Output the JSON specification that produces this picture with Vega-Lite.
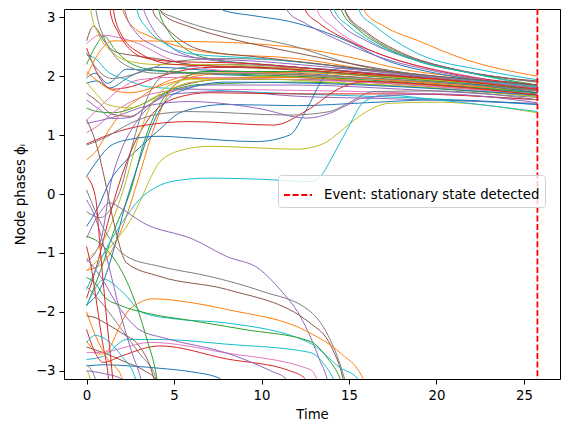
{
  "$schema": "https://vega.github.io/schema/vega-lite/v6.json",
  "width": 496,
  "height": 370,
  "autosize": {"type": "none"},
  "padding": {"left": 64, "top": 9, "right": 9, "bottom": 53},
  "background": "white",
  "config": {
    "font": "DejaVu Sans",
    "view": {"stroke": "black", "strokeWidth": 1},
    "axis": {
      "grid": false, "domain": false,
      "tickColor": "black", "tickSize": 5, "tickWidth": 1,
      "labelColor": "black", "labelFontSize": 13.3, "labelFont": "DejaVu Sans", "labelPadding": 4,
      "titleFont": "DejaVu Sans", "titleFontSize": 13.3, "titleFontWeight": "normal", "titleColor": "black"
    }
  },
  "layer": [
    {
      "data": {"values": [
        {"s":"A1","c":0,"t":0,"v":1.97},{"s":"A1","c":0,"t":0.5,"v":2.05},{"s":"A1","c":0,"t":1.2,"v":1.88},{"s":"A1","c":0,"t":2.3,"v":2.12},{"s":"A1","c":0,"t":3.5,"v":2.1},{"s":"A1","c":0,"t":6,"v":2.05},{"s":"A1","c":0,"t":12,"v":1.98},{"s":"A1","c":0,"t":18,"v":1.88},{"s":"A1","c":0,"t":25.77,"v":1.72},
        {"s":"A2","c":0,"t":0,"v":1.88},{"s":"A2","c":0,"t":0.6,"v":1.92},{"s":"A2","c":0,"t":1.3,"v":1.8},{"s":"A2","c":0,"t":2.5,"v":2.0},{"s":"A2","c":0,"t":4,"v":2.15},{"s":"A2","c":0,"t":7,"v":2.1},{"s":"A2","c":0,"t":12,"v":2.05},{"s":"A2","c":0,"t":18,"v":1.93},{"s":"A2","c":0,"t":25.77,"v":1.78},
        {"s":"A3","c":9,"t":0,"v":2.36},{"s":"A3","c":9,"t":0.5,"v":2.3},{"s":"A3","c":9,"t":1.2,"v":2.08},{"s":"A3","c":9,"t":2.2,"v":1.95},{"s":"A3","c":9,"t":3.5,"v":1.82},{"s":"A3","c":9,"t":6,"v":1.78},{"s":"A3","c":9,"t":12,"v":1.7},{"s":"A3","c":9,"t":18,"v":1.64},{"s":"A3","c":9,"t":25.77,"v":1.52},
        {"s":"A4","c":5,"t":0,"v":1.71},{"s":"A4","c":5,"t":0.6,"v":1.58},{"s":"A4","c":5,"t":1.5,"v":1.35},{"s":"A4","c":5,"t":2.5,"v":1.32},{"s":"A4","c":5,"t":3.5,"v":1.5},{"s":"A4","c":5,"t":5,"v":1.8},{"s":"A4","c":5,"t":8,"v":1.95},{"s":"A4","c":5,"t":13,"v":1.94},{"s":"A4","c":5,"t":18,"v":1.86},{"s":"A4","c":5,"t":25.77,"v":1.7},
        {"s":"A5","c":2,"t":0,"v":1.46},{"s":"A5","c":2,"t":0.6,"v":1.4},{"s":"A5","c":2,"t":1.5,"v":1.38},{"s":"A5","c":2,"t":3,"v":1.5},{"s":"A5","c":2,"t":4.5,"v":1.72},{"s":"A5","c":2,"t":6.5,"v":1.86},{"s":"A5","c":2,"t":12,"v":1.9},{"s":"A5","c":2,"t":18,"v":1.83},{"s":"A5","c":2,"t":25.77,"v":1.66},
        {"s":"A6","c":6,"t":0,"v":1.04},{"s":"A6","c":6,"t":0.6,"v":1.15},{"s":"A6","c":6,"t":1.5,"v":1.38},{"s":"A6","c":6,"t":2.5,"v":1.56},{"s":"A6","c":6,"t":4,"v":1.72},{"s":"A6","c":6,"t":6,"v":1.78},{"s":"A6","c":6,"t":12,"v":1.76},{"s":"A6","c":6,"t":18,"v":1.72},{"s":"A6","c":6,"t":25.77,"v":1.6},
        {"s":"A7","c":1,"t":0,"v":0.58},{"s":"A7","c":1,"t":0.6,"v":0.75},{"s":"A7","c":1,"t":1.2,"v":1.05},{"s":"A7","c":1,"t":2,"v":1.38},{"s":"A7","c":1,"t":3,"v":1.62},{"s":"A7","c":1,"t":4.5,"v":1.9},{"s":"A7","c":1,"t":7,"v":2.05},{"s":"A7","c":1,"t":12,"v":2.06},{"s":"A7","c":1,"t":18,"v":1.96},{"s":"A7","c":1,"t":25.77,"v":1.8},
        {"s":"A8","c":3,"t":0,"v":2.48},{"s":"A8","c":3,"t":0.3,"v":2.25},{"s":"A8","c":3,"t":0.8,"v":1.95},{"s":"A8","c":3,"t":1.5,"v":1.78},{"s":"A8","c":3,"t":2.5,"v":1.82},{"s":"A8","c":3,"t":4,"v":1.98},{"s":"A8","c":3,"t":7,"v":2.15},{"s":"A8","c":3,"t":12,"v":2.14},{"s":"A8","c":3,"t":18,"v":2.0},{"s":"A8","c":3,"t":25.77,"v":1.8},
        {"s":"A9","c":8,"t":0,"v":1.9},{"s":"A9","c":8,"t":0.5,"v":1.72},{"s":"A9","c":8,"t":1.2,"v":1.52},{"s":"A9","c":8,"t":2.5,"v":1.46},{"s":"A9","c":8,"t":4,"v":1.66},{"s":"A9","c":8,"t":6,"v":1.9},{"s":"A9","c":8,"t":11,"v":2.0},{"s":"A9","c":8,"t":17,"v":1.94},{"s":"A9","c":8,"t":25.77,"v":1.72},
        {"s":"A10","c":6,"t":0,"v":2.55},{"s":"A10","c":6,"t":0.8,"v":2.7},{"s":"A10","c":6,"t":1.8,"v":2.66},{"s":"A10","c":6,"t":3,"v":2.55},{"s":"A10","c":6,"t":4.5,"v":2.32},{"s":"A10","c":6,"t":7,"v":2.12},{"s":"A10","c":6,"t":12,"v":2.02},{"s":"A10","c":6,"t":18,"v":1.92},{"s":"A10","c":6,"t":25.77,"v":1.75},
        {"s":"A11","c":5,"t":0,"v":2.6},{"s":"A11","c":5,"t":0.4,"v":2.85},{"s":"A11","c":5,"t":1,"v":2.6},{"s":"A11","c":5,"t":1.6,"v":2.42},{"s":"A11","c":5,"t":2.5,"v":2.36},{"s":"A11","c":5,"t":4,"v":2.3},{"s":"A11","c":5,"t":6,"v":2.2},{"s":"A11","c":5,"t":11,"v":2.12},{"s":"A11","c":5,"t":17,"v":2.0},{"s":"A11","c":5,"t":25.77,"v":1.76},
        {"s":"A12","c":4,"t":0,"v":1.6},{"s":"A12","c":4,"t":0.8,"v":1.42},{"s":"A12","c":4,"t":1.5,"v":1.28},{"s":"A12","c":4,"t":2.5,"v":1.3},{"s":"A12","c":4,"t":3.5,"v":1.5},{"s":"A12","c":4,"t":5,"v":1.7},{"s":"A12","c":4,"t":8,"v":1.74},{"s":"A12","c":4,"t":12,"v":1.66},{"s":"A12","c":4,"t":17,"v":1.62},{"s":"A12","c":4,"t":25.77,"v":1.54},
        {"s":"A13","c":2,"t":0,"v":2.2},{"s":"A13","c":2,"t":0.5,"v":2.5},{"s":"A13","c":2,"t":1,"v":2.68},{"s":"A13","c":2,"t":1.6,"v":2.46},{"s":"A13","c":2,"t":2.5,"v":2.22},{"s":"A13","c":2,"t":4,"v":2.1},{"s":"A13","c":2,"t":7,"v":2.05},{"s":"A13","c":2,"t":12,"v":2.0},{"s":"A13","c":2,"t":18,"v":1.9},{"s":"A13","c":2,"t":25.77,"v":1.72},
        {"s":"A14","c":1,"t":0,"v":2.08},{"s":"A14","c":1,"t":0.5,"v":1.95},{"s":"A14","c":1,"t":1.5,"v":1.76},{"s":"A14","c":1,"t":2.5,"v":1.72},{"s":"A14","c":1,"t":4,"v":1.82},{"s":"A14","c":1,"t":6,"v":1.96},{"s":"A14","c":1,"t":11,"v":1.98},{"s":"A14","c":1,"t":17,"v":1.9},{"s":"A14","c":1,"t":25.77,"v":1.68},
        {"s":"A15","c":7,"t":0,"v":2.4},{"s":"A15","c":7,"t":0.6,"v":2.12},{"s":"A15","c":7,"t":1.5,"v":1.96},{"s":"A15","c":7,"t":3,"v":2.06},{"s":"A15","c":7,"t":5,"v":2.25},{"s":"A15","c":7,"t":8,"v":2.3},{"s":"A15","c":7,"t":12,"v":2.25},{"s":"A15","c":7,"t":16,"v":2.1},{"s":"A15","c":7,"t":20,"v":1.96},{"s":"A15","c":7,"t":25.77,"v":1.78},
        {"s":"A16","c":6,"t":0,"v":1.25},{"s":"A16","c":6,"t":1,"v":1.55},{"s":"A16","c":6,"t":2,"v":1.8},{"s":"A16","c":6,"t":3,"v":1.94},{"s":"A16","c":6,"t":5,"v":1.98},{"s":"A16","c":6,"t":11,"v":1.95},{"s":"A16","c":6,"t":17,"v":1.88},{"s":"A16","c":6,"t":25.77,"v":1.68},

        {"s":"B1","c":7,"t":0,"v":-0.3},{"s":"B1","c":7,"t":0.8,"v":-0.4},{"s":"B1","c":7,"t":1.5,"v":-0.2},{"s":"B1","c":7,"t":1.9,"v":0.04},{"s":"B1","c":7,"t":2.5,"v":0.7},{"s":"B1","c":7,"t":3.3,"v":1.51},{"s":"B1","c":7,"t":4.2,"v":1.97},{"s":"B1","c":7,"t":5.5,"v":2.15},{"s":"B1","c":7,"t":8,"v":2.2},{"s":"B1","c":7,"t":12,"v":2.15},{"s":"B1","c":7,"t":17,"v":2.04},{"s":"B1","c":7,"t":25.77,"v":1.8},
        {"s":"B2","c":4,"t":0,"v":-1.15},{"s":"B2","c":4,"t":0.8,"v":-0.8},{"s":"B2","c":4,"t":1.4,"v":0.2},{"s":"B2","c":4,"t":1.95,"v":0.72},{"s":"B2","c":4,"t":2.8,"v":1.2},{"s":"B2","c":4,"t":3.66,"v":1.51},{"s":"B2","c":4,"t":5,"v":1.75},{"s":"B2","c":4,"t":7,"v":1.85},{"s":"B2","c":4,"t":12,"v":1.85},{"s":"B2","c":4,"t":18,"v":1.78},{"s":"B2","c":4,"t":25.77,"v":1.64},
        {"s":"B3","c":2,"t":0,"v":-1.9},{"s":"B3","c":2,"t":0.8,"v":-1.3},{"s":"B3","c":2,"t":1.6,"v":-0.6},{"s":"B3","c":2,"t":2.5,"v":0.04},{"s":"B3","c":2,"t":3.3,"v":0.9},{"s":"B3","c":2,"t":4.4,"v":1.63},{"s":"B3","c":2,"t":5.5,"v":1.95},{"s":"B3","c":2,"t":6.7,"v":2.08},{"s":"B3","c":2,"t":12,"v":2.08},{"s":"B3","c":2,"t":18,"v":1.96},{"s":"B3","c":2,"t":25.77,"v":1.78},
        {"s":"B4","c":1,"t":0,"v":-1.3},{"s":"B4","c":1,"t":1,"v":-1.15},{"s":"B4","c":1,"t":2,"v":-0.6},{"s":"B4","c":1,"t":3,"v":0.3},{"s":"B4","c":1,"t":3.66,"v":0.95},{"s":"B4","c":1,"t":4.5,"v":1.6},{"s":"B4","c":1,"t":5.5,"v":1.95},{"s":"B4","c":1,"t":8,"v":2.05},{"s":"B4","c":1,"t":13,"v":2.02},{"s":"B4","c":1,"t":18,"v":1.92},{"s":"B4","c":1,"t":25.77,"v":1.75},
        {"s":"B5","c":0,"t":0,"v":-0.55},{"s":"B5","c":0,"t":0.7,"v":-0.2},{"s":"B5","c":0,"t":1.3,"v":0.2},{"s":"B5","c":0,"t":2.2,"v":0.55},{"s":"B5","c":0,"t":3,"v":0.78},{"s":"B5","c":0,"t":4,"v":1.05},{"s":"B5","c":0,"t":5.5,"v":1.4},{"s":"B5","c":0,"t":8,"v":1.52},{"s":"B5","c":0,"t":12,"v":1.5},{"s":"B5","c":0,"t":16,"v":1.55},{"s":"B5","c":0,"t":20,"v":1.6},{"s":"B5","c":0,"t":25.77,"v":1.52},
        {"s":"B6","c":3,"t":0,"v":-1.77},{"s":"B6","c":3,"t":0.6,"v":-1.2},{"s":"B6","c":3,"t":1.2,"v":-0.5},{"s":"B6","c":3,"t":2,"v":0.3},{"s":"B6","c":3,"t":2.8,"v":0.9},{"s":"B6","c":3,"t":3.6,"v":1.3},{"s":"B6","c":3,"t":5,"v":1.62},{"s":"B6","c":3,"t":7,"v":1.72},{"s":"B6","c":3,"t":12,"v":1.7},{"s":"B6","c":3,"t":18,"v":1.7},{"s":"B6","c":3,"t":25.77,"v":1.6},
        {"s":"B7","c":8,"t":0,"v":-1.11},{"s":"B7","c":8,"t":1,"v":-0.77},{"s":"B7","c":8,"t":2.1,"v":0.07},{"s":"B7","c":8,"t":2.8,"v":0.8},{"s":"B7","c":8,"t":3.5,"v":1.4},{"s":"B7","c":8,"t":4.5,"v":1.8},{"s":"B7","c":8,"t":6,"v":1.95},{"s":"B7","c":8,"t":10,"v":1.95},{"s":"B7","c":8,"t":15,"v":1.88},{"s":"B7","c":8,"t":20,"v":1.8},{"s":"B7","c":8,"t":25.77,"v":1.65},
        {"s":"B8","c":0,"t":0,"v":-1.88},{"s":"B8","c":0,"t":0.8,"v":-1.6},{"s":"B8","c":0,"t":1.5,"v":-1.0},{"s":"B8","c":0,"t":2.2,"v":-0.2},{"s":"B8","c":0,"t":3,"v":0.55},{"s":"B8","c":0,"t":3.8,"v":1.2},{"s":"B8","c":0,"t":5,"v":1.7},{"s":"B8","c":0,"t":8,"v":1.9},{"s":"B8","c":0,"t":13,"v":1.88},{"s":"B8","c":0,"t":18,"v":1.82},{"s":"B8","c":0,"t":25.77,"v":1.68},

        {"s":"E1","c":8,"t":0,"v":-1.3},{"s":"E1","c":8,"t":1.5,"v":-0.85},{"s":"E1","c":8,"t":2.5,"v":-0.45},{"s":"E1","c":8,"t":3.1,"v":-0.1},{"s":"E1","c":8,"t":3.7,"v":0.3},{"s":"E1","c":8,"t":4.2,"v":0.55},{"s":"E1","c":8,"t":5.5,"v":0.75},{"s":"E1","c":8,"t":7,"v":0.81},{"s":"E1","c":8,"t":10,"v":0.78},{"s":"E1","c":8,"t":12,"v":0.76},{"s":"E1","c":8,"t":13.5,"v":0.85},{"s":"E1","c":8,"t":14.5,"v":1.06},{"s":"E1","c":8,"t":15.5,"v":1.3},{"s":"E1","c":8,"t":17.3,"v":1.54},{"s":"E1","c":8,"t":20,"v":1.56},{"s":"E1","c":8,"t":25.77,"v":1.38},
        {"s":"E2","c":9,"t":0,"v":-1.62},{"s":"E2","c":9,"t":1,"v":-1.0},{"s":"E2","c":9,"t":2,"v":-0.5},{"s":"E2","c":9,"t":3,"v":-0.1},{"s":"E2","c":9,"t":4,"v":0.12},{"s":"E2","c":9,"t":5,"v":0.22},{"s":"E2","c":9,"t":7,"v":0.27},{"s":"E2","c":9,"t":10,"v":0.25},{"s":"E2","c":9,"t":12.8,"v":0.21},{"s":"E2","c":9,"t":13.5,"v":0.35},{"s":"E2","c":9,"t":14.1,"v":0.66},{"s":"E2","c":9,"t":15,"v":1.15},{"s":"E2","c":9,"t":15.8,"v":1.55},{"s":"E2","c":9,"t":17,"v":1.68},{"s":"E2","c":9,"t":20,"v":1.6},{"s":"E2","c":9,"t":25.77,"v":1.4},
        {"s":"E3","c":0,"t":0,"v":0.3},{"s":"E3","c":0,"t":0.7,"v":0.6},{"s":"E3","c":0,"t":1.33,"v":0.81},{"s":"E3","c":0,"t":2.5,"v":0.93},{"s":"E3","c":0,"t":4.2,"v":0.98},{"s":"E3","c":0,"t":6,"v":0.95},{"s":"E3","c":0,"t":9.7,"v":0.89},{"s":"E3","c":0,"t":11.6,"v":1.0},{"s":"E3","c":0,"t":12.6,"v":1.45},{"s":"E3","c":0,"t":13.5,"v":1.95},{"s":"E3","c":0,"t":14.5,"v":2.14},{"s":"E3","c":0,"t":16,"v":2.12},{"s":"E3","c":0,"t":20,"v":1.95},{"s":"E3","c":0,"t":25.77,"v":1.72},
        {"s":"E4","c":3,"t":0,"v":0.85},{"s":"E4","c":3,"t":0.8,"v":0.95},{"s":"E4","c":3,"t":1.5,"v":1.03},{"s":"E4","c":3,"t":3,"v":1.15},{"s":"E4","c":3,"t":5.9,"v":1.23},{"s":"E4","c":3,"t":10.7,"v":1.17},{"s":"E4","c":3,"t":12.6,"v":1.42},{"s":"E4","c":3,"t":14.5,"v":1.8},{"s":"E4","c":3,"t":16,"v":1.91},{"s":"E4","c":3,"t":20,"v":1.85},{"s":"E4","c":3,"t":25.77,"v":1.68},
        {"s":"E5","c":7,"t":0,"v":0.83},{"s":"E5","c":7,"t":1,"v":0.95},{"s":"E5","c":7,"t":2.5,"v":1.2},{"s":"E5","c":7,"t":4,"v":1.35},{"s":"E5","c":7,"t":5.9,"v":1.4},{"s":"E5","c":7,"t":11.6,"v":1.34},{"s":"E5","c":7,"t":13.9,"v":1.4},{"s":"E5","c":7,"t":15,"v":1.55},{"s":"E5","c":7,"t":16.4,"v":1.74},{"s":"E5","c":7,"t":20,"v":1.75},{"s":"E5","c":7,"t":25.77,"v":1.6},
        {"s":"E6","c":4,"t":0,"v":1.2},{"s":"E6","c":4,"t":1.5,"v":1.3},{"s":"E6","c":4,"t":3.5,"v":1.5},{"s":"E6","c":4,"t":5.9,"v":1.57},{"s":"E6","c":4,"t":9.7,"v":1.46},{"s":"E6","c":4,"t":12.6,"v":1.29},{"s":"E6","c":4,"t":13.9,"v":1.37},{"s":"E6","c":4,"t":14.9,"v":1.51},{"s":"E6","c":4,"t":15.8,"v":1.63},{"s":"E6","c":4,"t":20,"v":1.7},{"s":"E6","c":4,"t":25.77,"v":1.55},

        {"s":"U1","c":1,"t":0,"v":2.0},{"s":"U1","c":1,"t":0.6,"v":2.35},{"s":"U1","c":1,"t":1.5,"v":2.6},{"s":"U1","c":1,"t":6,"v":2.59},{"s":"U1","c":1,"t":11.6,"v":2.5},{"s":"U1","c":1,"t":15.4,"v":2.3},{"s":"U1","c":1,"t":18,"v":2.12},{"s":"U1","c":1,"t":21,"v":2.0},{"s":"U1","c":1,"t":25.77,"v":1.85},
        {"s":"U2a","c":7,"t":0,"v":-1.57},{"s":"U2a","c":7,"t":1,"v":-1.9},{"s":"U2a","c":7,"t":2,"v":-2.3},{"s":"U2a","c":7,"t":3,"v":-2.7},{"s":"U2a","c":7,"t":4,"v":-3.15},{"s":"U2a","c":7,"t":4.3,"v":-3.5},
        {"s":"U2b","c":7,"t":4.0,"v":3.5},{"s":"U2b","c":7,"t":4.2,"v":3.12},{"s":"U2b","c":7,"t":5,"v":3.0},{"s":"U2b","c":7,"t":5.9,"v":2.9},{"s":"U2b","c":7,"t":7.05,"v":2.8},{"s":"U2b","c":7,"t":11.6,"v":2.53},{"s":"U2b","c":7,"t":15.4,"v":2.19},{"s":"U2b","c":7,"t":18,"v":2.05},{"s":"U2b","c":7,"t":25.77,"v":1.8},
        {"s":"U3a","c":5,"t":0,"v":-2.6},{"s":"U3a","c":5,"t":1,"v":-2.7},{"s":"U3a","c":5,"t":2.2,"v":-2.85},{"s":"U3a","c":5,"t":3.3,"v":-3.0},{"s":"U3a","c":5,"t":4.1,"v":-3.2},{"s":"U3a","c":5,"t":4.4,"v":-3.5},
        {"s":"U3b","c":5,"t":4.1,"v":3.5},{"s":"U3b","c":5,"t":4.3,"v":3.07},{"s":"U3b","c":5,"t":5.9,"v":2.84},{"s":"U3b","c":5,"t":7.05,"v":2.73},{"s":"U3b","c":5,"t":11.6,"v":2.42},{"s":"U3b","c":5,"t":15,"v":2.22},{"s":"U3b","c":5,"t":17.3,"v":2.1},{"s":"U3b","c":5,"t":25.77,"v":1.85},
        {"s":"U4a","c":0,"t":0,"v":-2.92},{"s":"U4a","c":0,"t":1,"v":-2.9},{"s":"U4a","c":0,"t":2.5,"v":-2.92},{"s":"U4a","c":0,"t":4.2,"v":-2.96},{"s":"U4a","c":0,"t":6,"v":-3.02},{"s":"U4a","c":0,"t":7.6,"v":-3.13},{"s":"U4a","c":0,"t":8,"v":-3.3},
        {"s":"U4b","c":0,"t":7.5,"v":3.3},{"s":"U4b","c":0,"t":7.8,"v":3.12},{"s":"U4b","c":0,"t":9.5,"v":3.03},{"s":"U4b","c":0,"t":11.6,"v":2.93},{"s":"U4b","c":0,"t":14.5,"v":2.65},{"s":"U4b","c":0,"t":17.3,"v":2.25},{"s":"U4b","c":0,"t":20,"v":2.05},{"s":"U4b","c":0,"t":25.77,"v":1.85},

        {"s":"D1a","c":4,"t":0,"v":-0.75},{"s":"D1a","c":4,"t":0.8,"v":-0.3},{"s":"D1a","c":4,"t":1.33,"v":-0.15},{"s":"D1a","c":4,"t":2,"v":-0.25},{"s":"D1a","c":4,"t":3.24,"v":-0.49},{"s":"D1a","c":4,"t":6.1,"v":-0.77},{"s":"D1a","c":4,"t":8,"v":-1.06},{"s":"D1a","c":4,"t":9.9,"v":-1.28},{"s":"D1a","c":4,"t":11.05,"v":-1.62},{"s":"D1a","c":4,"t":12.2,"v":-2.07},{"s":"D1a","c":4,"t":12.77,"v":-2.41},{"s":"D1a","c":4,"t":13.3,"v":-2.8},{"s":"D1a","c":4,"t":13.8,"v":-3.2},{"s":"D1a","c":4,"t":14,"v":-3.5},
        {"s":"D1b","c":4,"t":13.7,"v":3.5},{"s":"D1b","c":4,"t":13.9,"v":3.15},{"s":"D1b","c":4,"t":14.5,"v":2.9},{"s":"D1b","c":4,"t":16,"v":2.6},{"s":"D1b","c":4,"t":18,"v":2.35},{"s":"D1b","c":4,"t":21,"v":2.12},{"s":"D1b","c":4,"t":25.77,"v":1.9},
        {"s":"D2a","c":7,"t":0,"v":0.07},{"s":"D2a","c":7,"t":1,"v":-0.6},{"s":"D2a","c":7,"t":2.29,"v":-1.06},{"s":"D2a","c":7,"t":4.19,"v":-1.23},{"s":"D2a","c":7,"t":7.05,"v":-1.4},{"s":"D2a","c":7,"t":10,"v":-1.65},{"s":"D2a","c":7,"t":12.77,"v":-1.99},{"s":"D2a","c":7,"t":13.8,"v":-2.4},{"s":"D2a","c":7,"t":14.5,"v":-2.9},{"s":"D2a","c":7,"t":14.9,"v":-3.3},
        {"s":"D2b","c":7,"t":14.6,"v":3.4},{"s":"D2b","c":7,"t":14.85,"v":3.05},{"s":"D2b","c":7,"t":16,"v":2.72},{"s":"D2b","c":7,"t":18,"v":2.38},{"s":"D2b","c":7,"t":21,"v":2.12},{"s":"D2b","c":7,"t":25.77,"v":1.9},
        {"s":"D3a","c":5,"t":0,"v":1.26},{"s":"D3a","c":5,"t":0.5,"v":0.9},{"s":"D3a","c":5,"t":1.0,"v":0.3},{"s":"D3a","c":5,"t":1.56,"v":-0.49},{"s":"D3a","c":5,"t":2.29,"v":-1.17},{"s":"D3a","c":5,"t":4.19,"v":-1.4},{"s":"D3a","c":5,"t":8,"v":-1.62},{"s":"D3a","c":5,"t":12.77,"v":-2.19},{"s":"D3a","c":5,"t":14,"v":-2.6},{"s":"D3a","c":5,"t":14.66,"v":-3.14},{"s":"D3a","c":5,"t":14.9,"v":-3.5},
        {"s":"D3b","c":5,"t":14.5,"v":3.5},{"s":"D3b","c":5,"t":14.8,"v":3.1},{"s":"D3b","c":5,"t":16,"v":2.75},{"s":"D3b","c":5,"t":18,"v":2.4},{"s":"D3b","c":5,"t":21,"v":2.12},{"s":"D3b","c":5,"t":25.77,"v":1.92},
        {"s":"D4a","c":1,"t":0,"v":-2.5},{"s":"D4a","c":1,"t":0.8,"v":-2.72},{"s":"D4a","c":1,"t":1.3,"v":-2.62},{"s":"D4a","c":1,"t":1.72,"v":-2.36},{"s":"D4a","c":1,"t":2.29,"v":-2.02},{"s":"D4a","c":1,"t":3,"v":-1.85},{"s":"D4a","c":1,"t":3.81,"v":-1.78},{"s":"D4a","c":1,"t":6.1,"v":-1.85},{"s":"D4a","c":1,"t":8,"v":-1.96},{"s":"D4a","c":1,"t":12.77,"v":-2.36},{"s":"D4a","c":1,"t":14.5,"v":-2.7},{"s":"D4a","c":1,"t":15.8,"v":-3.14},{"s":"D4a","c":1,"t":16.1,"v":-3.4},
        {"s":"D4b","c":1,"t":15.6,"v":3.4},{"s":"D4b","c":1,"t":15.9,"v":3.1},{"s":"D4b","c":1,"t":17,"v":2.85},{"s":"D4b","c":1,"t":18.9,"v":2.61},{"s":"D4b","c":1,"t":21.7,"v":2.28},{"s":"D4b","c":1,"t":25.77,"v":2.0},
        {"s":"D5a","c":9,"t":0,"v":-1.9},{"s":"D5a","c":9,"t":0.5,"v":-1.6},{"s":"D5a","c":9,"t":1.0,"v":-1.45},{"s":"D5a","c":9,"t":2,"v":-1.65},{"s":"D5a","c":9,"t":3.24,"v":-2.02},{"s":"D5a","c":9,"t":5,"v":-2.12},{"s":"D5a","c":9,"t":8,"v":-2.19},{"s":"D5a","c":9,"t":12.77,"v":-2.53},{"s":"D5a","c":9,"t":14.5,"v":-2.95},{"s":"D5a","c":9,"t":15.5,"v":-3.14},{"s":"D5a","c":9,"t":15.8,"v":-3.4},
        {"s":"D5b","c":9,"t":15.3,"v":3.4},{"s":"D5b","c":9,"t":15.6,"v":3.1},{"s":"D5b","c":9,"t":16.5,"v":2.85},{"s":"D5b","c":9,"t":18.9,"v":2.39},{"s":"D5b","c":9,"t":22.7,"v":2.1},{"s":"D5b","c":9,"t":25.77,"v":1.94},
        {"s":"D6a","c":2,"t":0,"v":-1.42},{"s":"D6a","c":2,"t":0.6,"v":-1.55},{"s":"D6a","c":2,"t":1,"v":-1.74},{"s":"D6a","c":2,"t":2,"v":-1.9},{"s":"D6a","c":2,"t":3.4,"v":-2.02},{"s":"D6a","c":2,"t":6,"v":-2.15},{"s":"D6a","c":2,"t":9,"v":-2.3},{"s":"D6a","c":2,"t":12.77,"v":-2.5},{"s":"D6a","c":2,"t":13.8,"v":-2.8},{"s":"D6a","c":2,"t":14.5,"v":-3.14},{"s":"D6a","c":2,"t":14.8,"v":-3.4},
        {"s":"D6b","c":2,"t":14.3,"v":3.4},{"s":"D6b","c":2,"t":14.6,"v":3.1},{"s":"D6b","c":2,"t":15.5,"v":2.8},{"s":"D6b","c":2,"t":17,"v":2.5},{"s":"D6b","c":2,"t":19,"v":2.25},{"s":"D6b","c":2,"t":22,"v":2.05},{"s":"D6b","c":2,"t":25.77,"v":1.85},
        {"s":"D7a","c":9,"t":0,"v":-2.81},{"s":"D7a","c":9,"t":1,"v":-2.75},{"s":"D7a","c":9,"t":2.29,"v":-2.47},{"s":"D7a","c":9,"t":4.19,"v":-2.47},{"s":"D7a","c":9,"t":8,"v":-2.55},{"s":"D7a","c":9,"t":12.77,"v":-2.69},{"s":"D7a","c":9,"t":13.6,"v":-2.9},{"s":"D7a","c":9,"t":14.1,"v":-3.14},{"s":"D7a","c":9,"t":14.4,"v":-3.4},
        {"s":"D7b","c":9,"t":13.9,"v":3.4},{"s":"D7b","c":9,"t":14.2,"v":3.1},{"s":"D7b","c":9,"t":15,"v":2.85},{"s":"D7b","c":9,"t":16.5,"v":2.55},{"s":"D7b","c":9,"t":19,"v":2.25},{"s":"D7b","c":9,"t":22,"v":2.05},{"s":"D7b","c":9,"t":25.77,"v":1.82},
        {"s":"D8a","c":6,"t":0,"v":-2.69},{"s":"D8a","c":6,"t":0.95,"v":-2.69},{"s":"D8a","c":6,"t":2,"v":-2.62},{"s":"D8a","c":6,"t":3.62,"v":-2.52},{"s":"D8a","c":6,"t":8,"v":-2.7},{"s":"D8a","c":6,"t":12.77,"v":-2.98},{"s":"D8a","c":6,"t":13.15,"v":-3.14},{"s":"D8a","c":6,"t":13.4,"v":-3.4},
        {"s":"D8b","c":6,"t":12.9,"v":3.4},{"s":"D8b","c":6,"t":13.2,"v":3.1},{"s":"D8b","c":6,"t":14,"v":2.85},{"s":"D8b","c":6,"t":15.5,"v":2.55},{"s":"D8b","c":6,"t":18,"v":2.25},{"s":"D8b","c":6,"t":21,"v":2.05},{"s":"D8b","c":6,"t":25.77,"v":1.8},
        {"s":"D9a","c":3,"t":0,"v":-2.3},{"s":"D9a","c":3,"t":0.5,"v":-2.7},{"s":"D9a","c":3,"t":0.95,"v":-2.86},{"s":"D9a","c":3,"t":2,"v":-2.75},{"s":"D9a","c":3,"t":4.19,"v":-2.58},{"s":"D9a","c":3,"t":8,"v":-2.8},{"s":"D9a","c":3,"t":11.6,"v":-3.0},{"s":"D9a","c":3,"t":12.5,"v":-3.14},{"s":"D9a","c":3,"t":12.9,"v":-3.4},
        {"s":"D9b","c":3,"t":12.2,"v":3.4},{"s":"D9b","c":3,"t":12.5,"v":3.12},{"s":"D9b","c":3,"t":13.3,"v":2.9},{"s":"D9b","c":3,"t":15,"v":2.6},{"s":"D9b","c":3,"t":17,"v":2.35},{"s":"D9b","c":3,"t":20,"v":2.1},{"s":"D9b","c":3,"t":25.77,"v":1.85},
        {"s":"D10a","c":4,"t":0,"v":-1.1},{"s":"D10a","c":4,"t":0.8,"v":-1.4},{"s":"D10a","c":4,"t":1.8,"v":-1.9},{"s":"D10a","c":4,"t":3,"v":-2.3},{"s":"D10a","c":4,"t":4.5,"v":-2.45},{"s":"D10a","c":4,"t":8,"v":-2.7},{"s":"D10a","c":4,"t":10.5,"v":-3.0},{"s":"D10a","c":4,"t":11.4,"v":-3.14},{"s":"D10a","c":4,"t":11.8,"v":-3.4},
        {"s":"D10b","c":4,"t":11.1,"v":3.4},{"s":"D10b","c":4,"t":11.5,"v":3.1},{"s":"D10b","c":4,"t":12.5,"v":2.9},{"s":"D10b","c":4,"t":14.5,"v":2.6},{"s":"D10b","c":4,"t":17,"v":2.3},{"s":"D10b","c":4,"t":20,"v":2.08},{"s":"D10b","c":4,"t":25.77,"v":1.82},

        {"s":"T1a","c":2,"t":0,"v":-0.72},{"s":"T1a","c":2,"t":0.5,"v":-0.78},{"s":"T1a","c":2,"t":1.0,"v":-0.9},{"s":"T1a","c":2,"t":1.73,"v":-1.17},{"s":"T1a","c":2,"t":2.5,"v":-1.62},{"s":"T1a","c":2,"t":3.45,"v":-2.47},{"s":"T1a","c":2,"t":4.0,"v":-3.1},{"s":"T1a","c":2,"t":4.2,"v":-3.5},
        {"s":"T1b","c":2,"t":3.9,"v":3.5},{"s":"T1b","c":2,"t":4.15,"v":3.1},{"s":"T1b","c":2,"t":4.6,"v":2.8},{"s":"T1b","c":2,"t":5.5,"v":2.5},{"s":"T1b","c":2,"t":7,"v":2.3},{"s":"T1b","c":2,"t":11,"v":2.18},{"s":"T1b","c":2,"t":16,"v":2.05},{"s":"T1b","c":2,"t":20,"v":1.95},{"s":"T1b","c":2,"t":25.77,"v":1.8},
        {"s":"T2a","c":4,"t":0,"v":-0.1},{"s":"T2a","c":4,"t":0.5,"v":-0.4},{"s":"T2a","c":4,"t":1,"v":-0.9},{"s":"T2a","c":4,"t":1.5,"v":-1.5},{"s":"T2a","c":4,"t":2,"v":-2.1},{"s":"T2a","c":4,"t":2.6,"v":-2.7},{"s":"T2a","c":4,"t":3.1,"v":-3.14},{"s":"T2a","c":4,"t":3.3,"v":-3.4},
        {"s":"T2b","c":4,"t":3.0,"v":3.4},{"s":"T2b","c":4,"t":3.3,"v":3.1},{"s":"T2b","c":4,"t":3.8,"v":2.8},{"s":"T2b","c":4,"t":4.8,"v":2.5},{"s":"T2b","c":4,"t":6.5,"v":2.3},{"s":"T2b","c":4,"t":10,"v":2.2},{"s":"T2b","c":4,"t":15,"v":2.08},{"s":"T2b","c":4,"t":20,"v":1.95},{"s":"T2b","c":4,"t":25.77,"v":1.78},
        {"s":"T3a","c":3,"t":0,"v":-0.89},{"s":"T3a","c":3,"t":0.3,"v":-1.3},{"s":"T3a","c":3,"t":0.6,"v":-1.9},{"s":"T3a","c":3,"t":0.9,"v":-2.5},{"s":"T3a","c":3,"t":1.2,"v":-3.0},{"s":"T3a","c":3,"t":1.35,"v":-3.4},
        {"s":"T3b","c":3,"t":1.2,"v":3.4},{"s":"T3b","c":3,"t":1.35,"v":3.1},{"s":"T3b","c":3,"t":1.8,"v":2.75},{"s":"T3b","c":3,"t":2.5,"v":2.45},{"s":"T3b","c":3,"t":3.5,"v":2.3},{"s":"T3b","c":3,"t":5,"v":2.25},{"s":"T3b","c":3,"t":9,"v":2.22},{"s":"T3b","c":3,"t":14,"v":2.1},{"s":"T3b","c":3,"t":20,"v":1.95},{"s":"T3b","c":3,"t":25.77,"v":1.8},
        {"s":"T4a","c":1,"t":0,"v":-2.0},{"s":"T4a","c":1,"t":0.5,"v":-2.4},{"s":"T4a","c":1,"t":1.2,"v":-2.8},{"s":"T4a","c":1,"t":2.0,"v":-3.1},{"s":"T4a","c":1,"t":2.2,"v":-3.4},
        {"s":"T4b","c":1,"t":1.9,"v":3.4},{"s":"T4b","c":1,"t":2.1,"v":3.1},{"s":"T4b","c":1,"t":2.8,"v":2.8},{"s":"T4b","c":1,"t":3.45,"v":2.7},{"s":"T4b","c":1,"t":5,"v":2.53},{"s":"T4b","c":1,"t":7,"v":2.4},{"s":"T4b","c":1,"t":12,"v":2.3},{"s":"T4b","c":1,"t":16,"v":2.12},{"s":"T4b","c":1,"t":20,"v":1.98},{"s":"T4b","c":1,"t":25.77,"v":1.82},
        {"s":"T5a","c":8,"t":0,"v":-3.0},{"s":"T5a","c":8,"t":0.2,"v":-3.14},{"s":"T5a","c":8,"t":0.3,"v":-3.4},
        {"s":"T5b","c":8,"t":0.1,"v":3.4},{"s":"T5b","c":8,"t":0.25,"v":3.1},{"s":"T5b","c":8,"t":0.7,"v":2.7},{"s":"T5b","c":8,"t":1.5,"v":2.4},{"s":"T5b","c":8,"t":2.5,"v":2.25},{"s":"T5b","c":8,"t":4,"v":2.2},{"s":"T5b","c":8,"t":7,"v":2.2},{"s":"T5b","c":8,"t":12,"v":2.12},{"s":"T5b","c":8,"t":17,"v":2.0},{"s":"T5b","c":8,"t":25.77,"v":1.8},
        {"s":"T6a","c":7,"t":0,"v":-2.9},{"s":"T6a","c":7,"t":0.5,"v":-3.14},{"s":"T6a","c":7,"t":0.6,"v":-3.4},
        {"s":"T6b","c":7,"t":0.4,"v":3.4},{"s":"T6b","c":7,"t":0.55,"v":3.1},{"s":"T6b","c":7,"t":1,"v":2.65},{"s":"T6b","c":7,"t":1.6,"v":2.35},{"s":"T6b","c":7,"t":2.5,"v":2.15},{"s":"T6b","c":7,"t":4,"v":2.05},{"s":"T6b","c":7,"t":8,"v":2.05},{"s":"T6b","c":7,"t":14,"v":2.0},{"s":"T6b","c":7,"t":20,"v":1.9},{"s":"T6b","c":7,"t":25.77,"v":1.75},
        {"s":"T7a","c":4,"t":0,"v":-3.0},{"s":"T7a","c":4,"t":1,"v":-3.05},{"s":"T7a","c":4,"t":2,"v":-3.14},{"s":"T7a","c":4,"t":2.2,"v":-3.4},
        {"s":"T7b","c":4,"t":2.0,"v":3.4},{"s":"T7b","c":4,"t":2.2,"v":3.1},{"s":"T7b","c":4,"t":2.8,"v":2.75},{"s":"T7b","c":4,"t":4,"v":2.5},{"s":"T7b","c":4,"t":6,"v":2.32},{"s":"T7b","c":4,"t":10,"v":2.25},{"s":"T7b","c":4,"t":15,"v":2.12},{"s":"T7b","c":4,"t":20,"v":1.98},{"s":"T7b","c":4,"t":25.77,"v":1.8},
        {"s":"T8a","c":9,"t":0,"v":-2.52},{"s":"T8a","c":9,"t":0.5,"v":-2.4},{"s":"T8a","c":9,"t":1.0,"v":-2.45},{"s":"T8a","c":9,"t":2,"v":-2.75},{"s":"T8a","c":9,"t":2.8,"v":-3.14},{"s":"T8a","c":9,"t":3.0,"v":-3.4},
        {"s":"T8b","c":9,"t":2.7,"v":3.4},{"s":"T8b","c":9,"t":2.9,"v":3.1},{"s":"T8b","c":9,"t":3.5,"v":2.8},{"s":"T8b","c":9,"t":4.5,"v":2.55},{"s":"T8b","c":9,"t":6,"v":2.38},{"s":"T8b","c":9,"t":10,"v":2.3},{"s":"T8b","c":9,"t":15,"v":2.15},{"s":"T8b","c":9,"t":20,"v":2.0},{"s":"T8b","c":9,"t":25.77,"v":1.82},
        {"s":"T9a","c":5,"t":0,"v":-2.07},{"s":"T9a","c":5,"t":0.5,"v":-2.1},{"s":"T9a","c":5,"t":1,"v":-2.18},{"s":"T9a","c":5,"t":2,"v":-2.36},{"s":"T9a","c":5,"t":3,"v":-2.58},{"s":"T9a","c":5,"t":3.6,"v":-2.9},{"s":"T9a","c":5,"t":4.0,"v":-3.3},
        {"s":"T9b","c":5,"t":3.6,"v":3.4},{"s":"T9b","c":5,"t":3.8,"v":3.1},{"s":"T9b","c":5,"t":4.3,"v":2.9},{"s":"T9b","c":5,"t":5,"v":2.7},{"s":"T9b","c":5,"t":6.5,"v":2.45},{"s":"T9b","c":5,"t":10,"v":2.32},{"s":"T9b","c":5,"t":15,"v":2.15},{"s":"T9b","c":5,"t":20,"v":2.0},{"s":"T9b","c":5,"t":25.77,"v":1.85},
        {"s":"T10a","c":3,"t":0,"v":0.3},{"s":"T10a","c":3,"t":0.5,"v":-0.04},{"s":"T10a","c":3,"t":0.8,"v":-1.0},{"s":"T10a","c":3,"t":1.17,"v":-2.19},{"s":"T10a","c":3,"t":1.45,"v":-3.0},{"s":"T10a","c":3,"t":1.6,"v":-3.5},
        {"s":"T10b","c":3,"t":1.4,"v":3.5},{"s":"T10b","c":3,"t":1.55,"v":3.1},{"s":"T10b","c":3,"t":2,"v":2.7},{"s":"T10b","c":3,"t":3,"v":2.4},{"s":"T10b","c":3,"t":5,"v":2.2},{"s":"T10b","c":3,"t":10,"v":2.15},{"s":"T10b","c":3,"t":15,"v":2.05},{"s":"T10b","c":3,"t":20,"v":1.95},{"s":"T10b","c":3,"t":25.77,"v":1.78}
      ]},
      "mark": {"type": "line", "clip": true, "strokeWidth": 1, "interpolate": "monotone"},
      "encoding": {
        "x": {"field": "t", "type": "quantitative",
              "scale": {"domain": [-1.29, 27.06], "nice": false, "zero": false},
              "axis": {"values": [0, 5, 10, 15, 20, 25], "title": "Time", "titlePadding": 6}},
        "y": {"field": "v", "type": "quantitative",
              "scale": {"domain": [-3.14159, 3.14159], "nice": false, "zero": false},
              "axis": {"values": [-3, -2, -1, 0, 1, 2, 3], "title": "Node phases ϕᵢ", "titlePadding": 8}},
        "color": {"field": "c", "type": "nominal",
                  "scale": {"domain": [0, 1, 2, 3, 4, 5, 6, 7, 8, 9],
                            "range": ["#1f77b4", "#ff7f0e", "#2ca02c", "#d62728", "#9467bd", "#8c564b", "#e377c2", "#7f7f7f", "#bcbd22", "#17becf"]},
                  "legend": null},
        "detail": {"field": "s"}
      }
    },
    {
      "data": {"values": [{"t": 25.77, "label": "Event: stationary state detected"}]},
      "mark": {"type": "rule", "color": "#ff0000", "strokeWidth": 1.8},
      "encoding": {
        "x": {"field": "t", "type": "quantitative"},
        "strokeDash": {"field": "label", "type": "nominal",
          "scale": {"range": [[6, 2.6]]},
          "legend": {"title": null, "orient": "none", "legendX": 214, "legendY": 166,
                     "symbolType": "stroke", "symbolSize": 784, "symbolStrokeColor": "#ff0000", "symbolStrokeWidth": 1.8,
                     "labelFontSize": 13.3, "labelFont": "DejaVu Sans", "labelColor": "black", "labelOffset": 11, "labelLimit": 0,
                     "padding": 5, "fillColor": "rgba(255,255,255,0.8)", "strokeColor": "#d0d0d0", "cornerRadius": 3}}
      }
    }
  ]
}
